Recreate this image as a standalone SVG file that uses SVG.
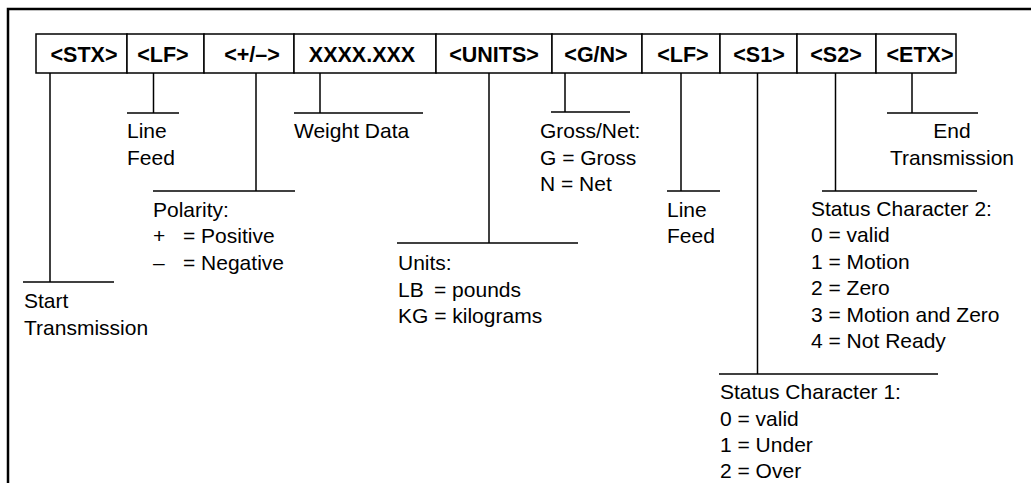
<svg xmlns="http://www.w3.org/2000/svg" width="1031" height="483" viewBox="0 0 1031 483">
  <style>
    .frame { fill: none; stroke: #000; stroke-width: 2.5; }
    .cell rect { fill: #fff; stroke: #000; stroke-width: 1.5; }
    .cell text { font-family: "Liberation Sans", Arial, sans-serif; font-weight: bold; font-size: 21.5px; fill: #000; text-anchor: middle; }
    .conn line { stroke: #000; stroke-width: 1.5; }
    .lbl text { font-family: "Liberation Sans", Arial, sans-serif; font-size: 21px; fill: #000; }
  </style>
  <rect x="0" y="0" width="1031" height="483" fill="#fff"/>

  <!-- outer frame (open at right and bottom) -->
  <path class="frame" d="M8,483 V9 H1031"/>

  <!-- message field cells -->
  <g id="cell-stx" class="cell"><rect x="36" y="34" width="91" height="39"/><text x="84" y="61.5">&lt;STX&gt;</text></g>
  <g id="cell-lf1" class="cell"><rect x="127" y="34" width="77" height="39"/><text x="163" y="61.5">&lt;LF&gt;</text></g>
  <g id="cell-pol" class="cell"><rect x="204" y="34" width="90" height="39"/><text x="252" y="61.5">&lt;+/–&gt;</text></g>
  <g id="cell-data" class="cell"><rect x="294" y="34" width="142" height="39"/><text x="362" y="61.5">XXXX.XXX</text></g>
  <g id="cell-units" class="cell"><rect x="436" y="34" width="116" height="39"/><text x="494" y="61.5">&lt;UNITS&gt;</text></g>
  <g id="cell-gn" class="cell"><rect x="552" y="34" width="90" height="39"/><text x="596" y="61.5">&lt;G/N&gt;</text></g>
  <g id="cell-lf2" class="cell"><rect x="642" y="34" width="78" height="39"/><text x="683" y="61.5">&lt;LF&gt;</text></g>
  <g id="cell-s1" class="cell"><rect x="720" y="34" width="77" height="39"/><text x="759" y="61.5">&lt;S1&gt;</text></g>
  <g id="cell-s2" class="cell"><rect x="797" y="34" width="79" height="39"/><text x="836" y="61.5">&lt;S2&gt;</text></g>
  <g id="cell-etx" class="cell"><rect x="876" y="34" width="80" height="39"/><text x="920" y="61.5">&lt;ETX&gt;</text></g>

  <!-- leader lines from each field to its description -->
  <g id="connectors" class="conn">
    <line x1="50" y1="73" x2="50" y2="282"/><line x1="23" y1="282" x2="114" y2="282"/>
    <line x1="153.5" y1="73" x2="153.5" y2="113"/><line x1="127" y1="113" x2="179" y2="113"/>
    <line x1="256" y1="73" x2="256" y2="191"/><line x1="153" y1="191" x2="295" y2="191"/>
    <line x1="320" y1="73" x2="320" y2="113"/><line x1="294" y1="113" x2="423" y2="113"/>
    <line x1="489" y1="73" x2="489" y2="243"/><line x1="397" y1="243" x2="578" y2="243"/>
    <line x1="565" y1="73" x2="565" y2="112"/><line x1="551" y1="112" x2="630" y2="112"/>
    <line x1="681" y1="73" x2="681" y2="191"/><line x1="667" y1="191" x2="720" y2="191"/>
    <line x1="757.5" y1="73" x2="757.5" y2="374"/><line x1="719" y1="374" x2="938" y2="374"/>
    <line x1="835.5" y1="73" x2="835.5" y2="191"/><line x1="822" y1="191" x2="977" y2="191"/>
    <line x1="912" y1="73" x2="912" y2="113"/><line x1="887" y1="113" x2="978" y2="113"/>
  </g>

  <!-- descriptions -->
  <g id="lbl-stx" class="lbl"><text x="24" y="308">Start</text><text x="24" y="334.5">Transmission</text></g>
  <g id="lbl-lf1" class="lbl"><text x="127" y="138">Line</text><text x="127" y="165">Feed</text></g>
  <g id="lbl-pol" class="lbl">
    <text x="153" y="216.5">Polarity:</text>
    <text x="153" y="243">+</text><text x="183" y="243">= Positive</text>
    <text x="153" y="270">–</text><text x="183" y="270">= Negative</text>
  </g>
  <g id="lbl-data" class="lbl"><text x="294" y="138">Weight Data</text></g>
  <g id="lbl-units" class="lbl">
    <text x="398" y="270">Units:</text>
    <text x="398" y="296.5">LB</text><text x="434" y="296.5">= pounds</text>
    <text x="398" y="323">KG = kilograms</text>
  </g>
  <g id="lbl-gn" class="lbl">
    <text x="540" y="138">Gross/Net:</text>
    <text x="540" y="165">G = Gross</text>
    <text x="540" y="191">N = Net</text>
  </g>
  <g id="lbl-lf2" class="lbl"><text x="667" y="216.5">Line</text><text x="667" y="243">Feed</text></g>
  <g id="lbl-s2" class="lbl">
    <text x="811" y="215.5">Status Character 2:</text>
    <text x="811" y="242">0 = valid</text>
    <text x="811" y="268.5">1 = Motion</text>
    <text x="811" y="295">2 = Zero</text>
    <text x="811" y="321.5">3 = Motion and Zero</text>
    <text x="811" y="348">4 = Not Ready</text>
  </g>
  <g id="lbl-etx" class="lbl"><text x="952" y="138" text-anchor="middle">End</text><text x="952" y="165" text-anchor="middle">Transmission</text></g>
  <g id="lbl-s1" class="lbl">
    <text x="720" y="399">Status Character 1:</text>
    <text x="720" y="425.5">0 = valid</text>
    <text x="720" y="452">1 = Under</text>
    <text x="720" y="478">2 = Over</text>
  </g>
</svg>
